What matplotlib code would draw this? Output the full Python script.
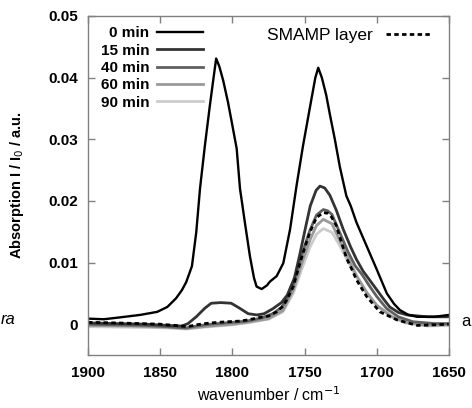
import matplotlib
matplotlib.use("Agg")
import matplotlib.pyplot as plt

plt.rcParams["font.family"] = ["Liberation Sans", "DejaVu Sans"]

# =========================
# DATA
# =========================
wn_0 = [1900, 1889, 1878, 1864, 1852, 1845, 1839, 1835, 1832, 1828, 1825, 1822.4,
        1819, 1815.5, 1813, 1811.2, 1809, 1806.3, 1803, 1800.5, 1797, 1794.7, 1791,
        1787.8, 1785, 1783.2, 1779.7, 1776, 1774, 1769.3, 1764.7, 1760, 1755.5, 1751,
        1746, 1742.5, 1740.5, 1738, 1735, 1732.4, 1729, 1725.5, 1721, 1718, 1714,
        1707, 1700, 1693, 1688, 1684, 1678, 1672, 1660, 1650]
ab_0 = [0.0009, 0.0008, 0.0011, 0.0015, 0.0020, 0.0028, 0.0042, 0.0055, 0.0068, 0.0094,
        0.0149, 0.0220, 0.0290, 0.0356, 0.0400, 0.0431, 0.0418, 0.0395, 0.0360, 0.0329,
        0.0285, 0.0220, 0.0160, 0.0110, 0.0075, 0.0061, 0.0057, 0.0063, 0.0069, 0.0078,
        0.0099, 0.0154, 0.0225, 0.0290, 0.0355, 0.0400, 0.0416, 0.0400, 0.0372, 0.0340,
        0.0300, 0.0255, 0.0208, 0.0192, 0.0165, 0.0127, 0.0089, 0.0050, 0.0033, 0.0023,
        0.0015, 0.0012, 0.0012, 0.0015]

wn_15 = [1900, 1880, 1860, 1845, 1835, 1830.7, 1825, 1819, 1814.6, 1808, 1800.8, 1795,
         1789, 1783, 1778, 1772, 1766, 1762, 1757, 1753, 1749, 1746, 1742, 1739.3, 1736,
         1732.4, 1728, 1723.2, 1718, 1714, 1709.4, 1705, 1700, 1695, 1691, 1685, 1679,
         1665, 1650]
ab_15 = [0.0002, 0.0001, 0.0000, -0.0002, -0.0003, 0.0001, 0.0012, 0.0026, 0.0034, 0.0035,
         0.0034, 0.0026, 0.0017, 0.0015, 0.0017, 0.0025, 0.0035, 0.0047, 0.0075, 0.0116,
         0.0160, 0.0192, 0.0217, 0.0224, 0.0221, 0.0209, 0.0185, 0.0154, 0.0125, 0.0105,
         0.0086, 0.0072, 0.0056, 0.0040, 0.0028, 0.0019, 0.0015, 0.0012, 0.0012]

wn_40 = [1900, 1880, 1860, 1845, 1832, 1825, 1815, 1800, 1790, 1780, 1772, 1766, 1762,
         1758, 1754.4, 1751, 1746.3, 1741.7, 1737, 1734, 1731, 1725.5, 1720, 1715, 1710,
         1705, 1700, 1693, 1685, 1675, 1660, 1650]
ab_40 = [0.0000, -0.0001, -0.0002, -0.0004, -0.0006, -0.0003, 0.0000, 0.0003, 0.0005,
         0.0010, 0.0017, 0.0027, 0.0042, 0.0063, 0.0092, 0.0119, 0.0152, 0.0177, 0.0186,
         0.0184, 0.0178, 0.0148, 0.0118, 0.0095, 0.0080, 0.0062, 0.0045, 0.0025, 0.0012,
         0.0004, 0.0001, 0.0001]

wn_60 = [1900, 1870, 1845, 1832, 1820, 1800, 1790, 1775, 1765, 1757.8, 1751, 1746,
         1741.7, 1737, 1731, 1725.5, 1720, 1714, 1707, 1700, 1690, 1680, 1665, 1650]
ab_60 = [-0.0002, -0.0003, -0.0005, -0.0007, -0.0004, 0.0000, 0.0003, 0.0009, 0.0022,
         0.0055, 0.0105, 0.0138, 0.0160, 0.0170, 0.0163, 0.0135, 0.0108, 0.0079, 0.0052,
         0.0031, 0.0013, 0.0003, -0.0002, -0.0001]

wn_90 = [1900, 1870, 1845, 1832, 1820, 1800, 1790, 1775, 1765, 1757.8, 1751, 1746,
         1741.7, 1737, 1731, 1725.5, 1720, 1714, 1707, 1700, 1690, 1680, 1665, 1650]
ab_90 = [-0.0004, -0.0005, -0.0006, -0.0008, -0.0005, -0.0001, 0.0002, 0.0008, 0.0020,
         0.0050, 0.0095, 0.0126, 0.0146, 0.0155, 0.0149, 0.0127, 0.0102, 0.0076, 0.0050,
         0.0030, 0.0012, 0.0002, -0.0003, -0.0002]

wn_smamp = [1900, 1880, 1865, 1850, 1840, 1831, 1825, 1819, 1810, 1803, 1795, 1789,
            1781, 1775, 1769.3, 1765, 1762.4, 1757.8, 1754.4, 1751, 1746.3, 1741.7, 1737,
            1734, 1731.3, 1728, 1725.5, 1720.9, 1717, 1714, 1707, 1697.8, 1686, 1672,
            1660, 1650]
ab_smamp = [0.0003, 0.0002, 0.0001, 0.0000, -0.0002, -0.0004, -0.0001, 0.0001, 0.0003,
            0.0004, 0.0005, 0.0007, 0.0011, 0.0013, 0.0020, 0.0029, 0.0039, 0.0061, 0.0089,
            0.0116, 0.0149, 0.0173, 0.0181, 0.0180, 0.0174, 0.0160, 0.0141, 0.0107, 0.0088,
            0.0072, 0.0045, 0.0020, 0.0007, -0.0002, -0.0001, 0.0000]

yticks = [0, 0.01, 0.02, 0.03, 0.04, 0.05]
ytick_labels = ["0", "0.01", "0.02", "0.03", "0.04", "0.05"]
xticks = [1900, 1850, 1800, 1750, 1700, 1650]

# =========================
# PLOT
# =========================
fig = plt.figure(figsize=(4.72, 4.08), dpi=100)
ax = fig.add_axes([0.1864, 0.1299, 0.7646, 0.8309])

l90, = ax.plot(wn_90, ab_90, color="#cccccc", lw=2.0, label="90 min")
l60, = ax.plot(wn_60, ab_60, color="#999999", lw=2.0, label="60 min")
l40, = ax.plot(wn_40, ab_40, color="#606060", lw=2.0, label="40 min")
l15, = ax.plot(wn_15, ab_15, color="#333333", lw=2.0, label="15 min")
ls, = ax.plot(wn_smamp, ab_smamp, color="black", lw=2.0, dashes=(1.6, 1.2),
              label="SMAMP layer")
l0, = ax.plot(wn_0, ab_0, color="black", lw=1.7, label="0 min")

ax.set_xlim(1900, 1650)
ax.set_ylim(-0.005, 0.05)
ax.set_xticks(xticks)
ax.set_xticklabels([str(x) for x in xticks])
ax.set_yticks(yticks)
ax.set_yticklabels(ytick_labels)

for s in ax.spines.values():
    s.set_color("#808080")
    s.set_linewidth(1.0)
ax.tick_params(direction="in", length=5, width=1, color="#808080",
               top=True, right=True, labelsize=11)
ax.tick_params(axis="x", pad=8)
ax.tick_params(axis="y", pad=7)
for lab in ax.get_xticklabels() + ax.get_yticklabels():
    lab.set_fontweight("bold")

ax.set_xlabel("wavenumber / cm$^{-1}$", fontsize=11.5, labelpad=4)
ax.set_ylabel("Absorption I / I$_0$ / a.u.", fontsize=10.5, fontweight="bold",
              labelpad=16)

leg1 = ax.legend(handles=[l0, l15, l40, l60, l90], loc="upper left",
                 bbox_to_anchor=(0.036, 0.97), frameon=False, markerfirst=False,
                 handlelength=3.0, handletextpad=0.5, labelspacing=0.22,
                 borderpad=0, borderaxespad=0,
                 prop={"size": 11, "weight": "bold"})
ax.add_artist(leg1)
ax.legend(handles=[ls], loc="upper right", bbox_to_anchor=(0.95, 0.965),
          frameon=False, markerfirst=False, handlelength=2.6, handletextpad=0.75,
          borderpad=0, borderaxespad=0, prop={"size": 12.5})

# text pieces at the picture edges
fig.text(1 / 472, 1 - 320 / 408, "ra", fontsize=12, style="italic",
         ha="left", va="center")
fig.text(471 / 472, 1 - 322 / 408, "a", fontsize=12, ha="right", va="center")

fig.savefig("out.png", dpi=100)
